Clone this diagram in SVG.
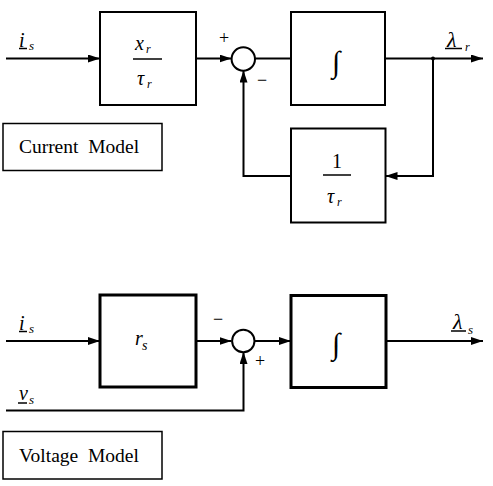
<svg xmlns="http://www.w3.org/2000/svg" width="493" height="486" viewBox="0 0 493 486">
<defs>
<marker id="ah" viewBox="0 0 12 8" refX="12" refY="4" markerWidth="12" markerHeight="8" markerUnits="userSpaceOnUse" orient="auto">
<path d="M0,0 L12,4 L0,8 Z" fill="#000"/>
</marker>
<style>
.box{fill:#fff;stroke:#000;stroke-width:2}
.tbox{fill:#fff;stroke:#000;stroke-width:3}
.sum{fill:#fff;stroke:#000;stroke-width:2}
.w{fill:none;stroke:#000;stroke-width:2}
.a{fill:none;stroke:#000;stroke-width:2;marker-end:url(#ah)}
text{font-family:'Liberation Serif','Times New Roman','DejaVu Serif',serif;fill:#000}
.i{font-style:italic}
.u{stroke:#000;stroke-width:1.5}
</style>
</defs>
<g id="connectors">
<line class="a" x1="6" y1="58.5" x2="100" y2="58.5"/>
<line class="a" x1="196" y1="58.5" x2="231.5" y2="58.5"/>
<line class="w" x1="255" y1="58.5" x2="291" y2="58.5"/>
<line class="a" x1="385" y1="58.5" x2="483" y2="58.5"/>
<polyline class="a" points="433,58.5 433,176 385.5,176"/>
<polyline class="a" points="291,176 243.5,176 243.5,70.5"/>
<circle cx="433" cy="58.5" r="2" fill="#000"/>
<line class="a" x1="6" y1="341" x2="100" y2="341"/>
<line class="a" x1="196" y1="341" x2="231.5" y2="341"/>
<line class="a" x1="255" y1="341" x2="291" y2="341"/>
<line class="a" x1="386" y1="341" x2="483" y2="341"/>
<polyline class="a" points="6,410.5 243.5,410.5 243.5,352"/>
</g>
<g id="label-is-top">
<text class="i" x="19" y="47" font-size="20">i</text>
<line class="u" x1="19" y1="48.5" x2="27" y2="48.5"/>
<text class="i" x="29" y="50" font-size="13">s</text>
</g>
<g id="block-xr-taur">
<rect class="box" x="100" y="12" width="96" height="93"/>
<text class="i" x="135" y="50" font-size="20">x</text>
<text class="i" x="146" y="53" font-size="12">r</text>
<line class="u" x1="133" y1="59" x2="162" y2="59"/>
<text class="i" x="137" y="85" font-size="20">τ</text>
<text class="i" x="147" y="88" font-size="12">r</text>
</g>
<g id="sum-top">
<circle class="sum" cx="243.3" cy="59" r="11.7"/>
<text x="224" y="44" font-size="18" text-anchor="middle">+</text>
<text x="262" y="86" font-size="18" text-anchor="middle">−</text>
</g>
<g id="integrator-top">
<rect class="box" x="291" y="12" width="94" height="93"/>
<text x="336" y="72" font-size="30" text-anchor="middle">∫</text>
</g>
<g id="label-lambda-r">
<text class="i" x="447" y="47" font-size="22">λ</text>
<line class="u" x1="445" y1="48.5" x2="462" y2="48.5"/>
<text class="i" x="465" y="51" font-size="12">r</text>
</g>
<g id="block-inv-taur">
<rect class="box" x="291" y="128.5" width="94.5" height="94"/>
<text x="337" y="168" font-size="20" text-anchor="middle">1</text>
<line class="u" x1="323" y1="175" x2="351" y2="175"/>
<text class="i" x="327" y="203" font-size="20">τ</text>
<text class="i" x="337" y="206" font-size="12">r</text>
</g>
<g id="current-model">
<rect fill="#fff" stroke="#000" stroke-width="1.5" x="3" y="123.5" width="159" height="47"/>
<text x="79" y="153" font-size="19.5" text-anchor="middle" xml:space="preserve">Current  Model</text>
</g>
<g id="label-is-bottom">
<text class="i" x="19" y="330" font-size="20">i</text>
<line class="u" x1="19" y1="331.5" x2="27" y2="331.5"/>
<text class="i" x="29" y="333" font-size="13">s</text>
</g>
<g id="block-rs">
<rect class="tbox" x="100" y="295" width="96" height="92"/>
<text class="i" x="135" y="345" font-size="20">r</text>
<text class="i" x="142" y="350" font-size="14">s</text>
</g>
<g id="sum-bottom">
<circle class="sum" cx="243.3" cy="341" r="11.2"/>
<text x="218" y="325" font-size="18" text-anchor="middle">−</text>
<text x="260" y="367" font-size="18" text-anchor="middle">+</text>
</g>
<g id="integrator-bottom">
<rect class="tbox" x="291" y="295.5" width="95" height="92"/>
<text x="336" y="354" font-size="30" text-anchor="middle">∫</text>
</g>
<g id="label-lambda-s">
<text class="i" x="453" y="329" font-size="22">λ</text>
<line class="u" x1="451" y1="331" x2="466" y2="331"/>
<text class="i" x="468" y="334" font-size="13">s</text>
</g>
<g id="label-vs">
<text class="i" x="19" y="400" font-size="20">v</text>
<line class="u" x1="18" y1="403" x2="27" y2="403"/>
<text class="i" x="29" y="404" font-size="13">s</text>
</g>
<g id="voltage-model">
<rect fill="#fff" stroke="#000" stroke-width="1.5" x="3" y="431.5" width="159" height="47.5"/>
<text x="79" y="462" font-size="19.5" text-anchor="middle" xml:space="preserve">Voltage  Model</text>
</g>
</svg>
